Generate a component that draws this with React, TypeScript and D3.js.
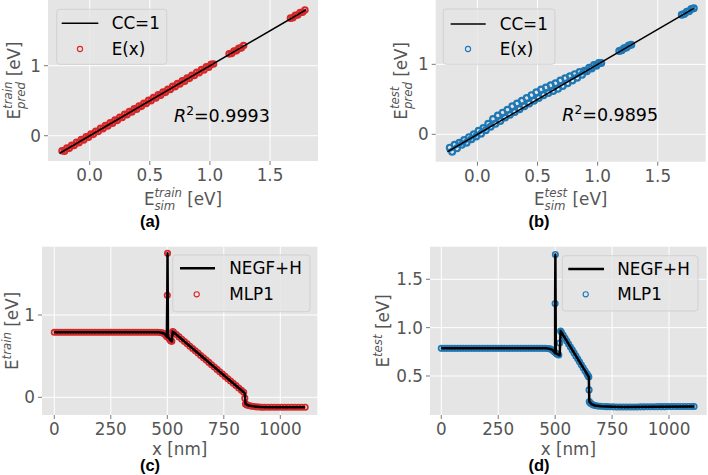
import React from "react";
import * as d3 from "d3";

// ---------- data ----------
const simTrain = [-0.23,-0.21,-0.19,-0.17,-0.15,-0.13,-0.11,-0.09,-0.07,-0.05,-0.03,-0.01,0.01,0.03,0.05,0.07,0.09,0.11,0.13,0.15,0.17,0.19,0.21,0.23,0.25,0.27,0.29,0.31,0.33,0.35,0.37,0.39,0.41,0.43,0.45,0.47,0.49,0.51,0.53,0.55,0.57,0.59,0.61,0.63,0.65,0.67,0.69,0.71,0.73,0.75,0.77,0.79,0.81,0.83,0.85,0.87,0.89,0.91,0.93,0.95,0.97,0.99,1.01,1.03,1.16,1.18,1.20,1.22,1.24,1.26,1.28,1.67,1.69,1.71,1.73,1.75,1.77,1.79];
const predTrain = [-0.215,-0.22,-0.175,-0.18,-0.135,-0.14,-0.095,-0.10,-0.055,-0.06,-0.015,-0.02,0.025,0.02,0.065,0.06,0.105,0.10,0.145,0.14,0.185,0.18,0.225,0.22,0.265,0.26,0.305,0.30,0.345,0.34,0.385,0.38,0.425,0.42,0.465,0.46,0.505,0.50,0.545,0.54,0.585,0.58,0.625,0.62,0.665,0.66,0.705,0.70,0.745,0.74,0.785,0.78,0.825,0.82,0.865,0.86,0.905,0.90,0.945,0.94,0.985,0.98,1.02,1.025,1.17,1.175,1.21,1.215,1.25,1.255,1.29,1.68,1.685,1.72,1.725,1.76,1.765,1.795];

const simTest = [-0.23,-0.21,-0.19,-0.17,-0.15,-0.13,-0.11,-0.09,-0.07,-0.05,-0.03,-0.01,0.01,0.03,0.05,0.07,0.09,0.11,0.13,0.15,0.17,0.19,0.21,0.23,0.25,0.27,0.29,0.31,0.33,0.35,0.37,0.39,0.41,0.43,0.45,0.47,0.49,0.51,0.53,0.55,0.57,0.59,0.61,0.63,0.65,0.67,0.69,0.71,0.73,0.75,0.77,0.79,0.81,0.83,0.85,0.87,0.89,0.91,0.93,0.95,0.97,0.99,1.01,1.03,1.18,1.20,1.22,1.24,1.26,1.28,1.70,1.72,1.74,1.76,1.78,1.80];
const predTest = [-0.19,-0.25,-0.15,-0.20,-0.12,-0.15,-0.08,-0.12,-0.04,-0.07,0.00,-0.03,0.05,0.01,0.09,0.06,0.15,0.11,0.22,0.15,0.27,0.19,0.31,0.24,0.35,0.28,0.40,0.32,0.44,0.36,0.48,0.40,0.52,0.44,0.56,0.48,0.60,0.52,0.64,0.56,0.67,0.59,0.70,0.62,0.73,0.65,0.77,0.69,0.80,0.73,0.83,0.77,0.86,0.81,0.89,0.85,0.91,0.90,0.95,0.94,0.99,0.98,1.02,1.02,1.19,1.20,1.23,1.24,1.27,1.28,1.71,1.72,1.75,1.76,1.79,1.80];

const ccLine = [-0.25, 1.8];
const r2Train = "0.9993";
const r2Test = "0.9895";

// profile (c): NEGF+H reference line
const xLineTrain = [0,460,475,485,492,498,500,501,503,508,514,520,524,838,843,844,846,860,880,910,950,1110];
const eLineTrain = [0.79,0.79,0.785,0.775,0.76,0.735,1.24,1.75,0.73,0.715,0.695,0.68,0.80,0.062,0.05,-0.01,-0.08,-0.10,-0.11,-0.118,-0.12,-0.12];
// profile (c): MLP1 predictions
const xMlpTrain = [0,12,24,36,48,60,72,84,96,108,120,132,144,156,168,180,192,204,216,228,240,252,264,276,288,300,312,324,336,348,360,372,384,396,408,420,432,444,456,
  468,478,486,492,497,500,501,504,508,512,516,520,524,
  528,540,552,564,576,588,600,612,624,636,648,660,672,684,696,708,720,732,744,756,768,780,792,804,816,828,838,
  843,846,852,860,870,882,894,906,918,
  930,945,960,975,990,1005,1020,1035,1050,1065,1080,1095,1110];
const eMlpTrain = [0.79,0.79,0.79,0.79,0.79,0.79,0.79,0.79,0.79,0.79,0.79,0.79,0.79,0.79,0.79,0.79,0.79,0.79,0.79,0.79,0.79,0.79,0.79,0.79,0.79,0.79,0.79,0.79,0.79,0.79,0.79,0.79,0.79,0.79,0.79,0.79,0.79,0.79,0.79,
  0.788,0.783,0.772,0.76,0.74,1.24,1.75,0.73,0.715,0.70,0.685,0.68,0.80,
  0.791,0.762,0.734,0.706,0.678,0.650,0.621,0.593,0.565,0.537,0.508,0.480,0.452,0.424,0.396,0.367,0.339,0.311,0.283,0.254,0.226,0.198,0.170,0.142,0.113,0.085,0.062,
  -0.01,-0.08,-0.092,-0.10,-0.107,-0.112,-0.116,-0.118,-0.12,
  -0.12,-0.12,-0.12,-0.12,-0.12,-0.12,-0.12,-0.12,-0.12,-0.12,-0.12,-0.12,-0.12];

// profile (d): NEGF+H reference line
const xLineTest = [0,460,475,488,496,500,500,501,503,508,514,520,524,648,649,650,660,675,700,750,800,1110];
const eLineTest = [0.786,0.786,0.782,0.77,0.75,0.735,1.25,1.757,0.735,0.728,0.72,0.715,0.965,0.49,0.356,0.235,0.21,0.195,0.187,0.182,0.179,0.185];
// profile (d): MLP1 predictions
const xMlpTest = [0,12,24,36,48,60,72,84,96,108,120,132,144,156,168,180,192,204,216,228,240,252,264,276,288,300,312,324,336,348,360,372,384,396,408,420,432,444,456,
  468,478,486,492,497,500,501,504,508,512,516,520,
  524,527,
  535,543,551,559,567,575,583,591,599,607,615,623,631,639,
  643,646,648,649,650,654,660,668,676,686,698,712,726,740,
  755,770,785,800,815,830,845,860,875,890,905,920,935,950,965,980,995,1010,1025,1040,1055,1070,1085,1100,
  1110];
const eMlpTest = [0.786,0.786,0.786,0.786,0.786,0.786,0.786,0.786,0.786,0.786,0.786,0.786,0.786,0.786,0.786,0.786,0.786,0.786,0.786,0.786,0.786,0.786,0.786,0.786,0.786,0.786,0.786,0.786,0.786,0.786,0.786,0.786,0.786,0.786,0.786,0.786,0.786,0.786,0.786,
  0.785,0.78,0.772,0.762,0.748,1.25,1.757,0.735,0.728,0.722,0.718,0.84,
  0.965,0.954,
  0.923,0.892,0.861,0.831,0.800,0.770,0.739,0.708,0.678,0.647,0.616,0.586,0.555,0.525,
  0.509,0.497,0.49,0.356,0.235,0.222,0.21,0.20,0.195,0.19,0.187,0.185,0.183,0.182,
  0.181,0.18,0.179,0.179,0.179,0.18,0.18,0.18,0.181,0.181,0.182,0.182,0.182,0.183,0.183,0.183,0.184,0.184,0.184,0.185,0.185,0.185,0.185,0.185,
  0.185];

const scatterXTicks = [0, 0.5, 1.0, 1.5];
const scatterYTicks = [0, 1];
const profXTicks = [0, 250, 500, 750, 1000];
const trainProfYTicks = [0, 1];
const testProfYTicks = [0.5, 1.0, 1.5];

// ---------- style ----------
const FONT = "DejaVu Sans, sans-serif";
const RED = "#d62728";
const BLUE = "#1f77b4";
const BG = "#e5e5e5";
const TICKC = "#555555";
const FS = 16.8;

type Sc = d3.ScaleLinear<number, number>;

function Frame({ x, y, xTicks, yTicks, xFmt, yFmt }: { x: Sc; y: Sc; xTicks: number[]; yTicks: number[]; xFmt: (v: number) => string; yFmt: (v: number) => string }) {
  const [x0, x1] = x.range();
  const [y0, y1] = y.range();
  return (
    <g>
      <rect x={x0} y={y1} width={x1 - x0} height={y0 - y1} fill={BG} />
      {xTicks.map((t) => (
        <line key={"gx" + t} x1={x(t)} x2={x(t)} y1={y1} y2={y0} stroke="#ffffff" strokeWidth={1} />
      ))}
      {yTicks.map((t) => (
        <line key={"gy" + t} x1={x0} x2={x1} y1={y(t)} y2={y(t)} stroke="#ffffff" strokeWidth={1} />
      ))}
      {xTicks.map((t) => (
        <g key={"tx" + t}>
          <line x1={x(t)} x2={x(t)} y1={y0} y2={y0 + 4} stroke={TICKC} strokeWidth={0.8} />
          <text x={x(t)} y={y0 + 20.3} textAnchor="middle" fontFamily={FONT} fontSize={FS} fill={TICKC}>{xFmt(t)}</text>
        </g>
      ))}
      {yTicks.map((t) => (
        <g key={"ty" + t}>
          <line x1={x0 - 4} x2={x0} y1={y(t)} y2={y(t)} stroke={TICKC} strokeWidth={0.8} />
          <text x={x0 - 7} y={y(t) + 6} textAnchor="end" fontFamily={FONT} fontSize={FS} fill={TICKC}>{yFmt(t)}</text>
        </g>
      ))}
    </g>
  );
}

// approximate widths of DejaVu Sans Oblique glyphs (em)
const GW: Record<string, number> = { t: 0.392, r: 0.411, a: 0.613, i: 0.278, n: 0.634, p: 0.635, e: 0.615, d: 0.635, s: 0.521, m: 0.974 };
const wOf = (s: string, fs: number) => s.split("").reduce((a, c) => a + (GW[c] || 0.6), 0) * fs;

function MathLabel({ x, y, sup, sub, tail, rotate }: { x: number; y: number; sup: string; sub?: string; tail: string; rotate?: boolean }) {
  const sfs = FS * 0.7;
  const up = sub ? 8 : 7;
  const down = 4.5;
  const wSup = wOf(sup, sfs);
  const wSub = sub ? wOf(sub, sfs) : 0;
  return (
    <text x={x} y={y} textAnchor="middle" fontFamily={FONT} fontSize={FS} fill={TICKC} style={{ whiteSpace: "pre" }}
      transform={rotate ? `rotate(-90 ${x} ${y})` : undefined}>
      <tspan>E</tspan>
      <tspan dy={-up} fontSize={sfs} fontStyle="italic">{sup}</tspan>
      {sub ? (
        <>
          <tspan dx={-wSup} dy={up + down} fontSize={sfs} fontStyle="italic">{sub}</tspan>
          <tspan dx={Math.max(0, wSup - wSub)} dy={-down}>{tail}</tspan>
        </>
      ) : (
        <tspan dy={up}>{tail}</tspan>
      )}
    </text>
  );
}

function Legend({ bx, by, bw, bh, lx1, lx2, ly, cx, cy, tx, t1, t2, b1, b2, color, lw }: any) {
  return (
    <g>
      <rect x={bx} y={by} width={bw} height={bh} rx={3} fill={BG} fillOpacity={0.8} stroke="#cccccc" strokeOpacity={0.8} strokeWidth={1} />
      <line x1={lx1} x2={lx2} y1={ly} y2={ly} stroke="#000" strokeWidth={lw} />
      <circle cx={cx} cy={cy} r={2.6} fill="none" stroke={color} strokeWidth={1.1} />
      <text x={tx} y={b1} fontFamily={FONT} fontSize={FS} fill="#000">{t1}</text>
      <text x={tx} y={b2} fontFamily={FONT} fontSize={FS} fill="#000">{t2}</text>
    </g>
  );
}

function R2({ x, y, val }: { x: number; y: number; val: string }) {
  return (
    <text x={x} y={y} fontFamily={FONT} fontSize={17.5} fill="#000">
      <tspan fontStyle="italic">R</tspan>
      <tspan dy={-7} fontSize={12.2}>2</tspan>
      <tspan dy={7}>={val}</tspan>
    </text>
  );
}

function SubLabel({ x, y, t }: { x: number; y: number; t: string }) {
  return (
    <text x={x} y={y} textAnchor="middle" fontFamily="Liberation Sans, Arial, sans-serif" fontWeight="bold" fontSize={16.5} fill="#000">{t}</text>
  );
}

export default function App() {
  const W = 708, H = 475;
  const f1 = d3.format(".1f");
  const fd = d3.format("d");

  const xa = d3.scaleLinear().domain([-0.347, 1.899]).range([48, 318]);
  const ya = d3.scaleLinear().domain([-0.361, 1.939]).range([161, 0]);
  const xb = d3.scaleLinear().domain([-0.347, 1.899]).range([435.7, 705.7]);
  const yb = d3.scaleLinear().domain([-0.391, 1.919]).range([161.7, 0]);
  const xc = d3.scaleLinear().domain([-54.4, 1163.7]).range([42, 317.3]);
  const yc = d3.scaleLinear().domain([-0.215, 1.83]).range([415, 246.7]);
  const xd = d3.scaleLinear().domain([-49.6, 1165.6]).range([430, 706.7]);
  const yd = d3.scaleLinear().domain([0.0967, 1.837]).range([415, 246.7]);

  const lineGen = (x: Sc, y: Sc, xs: number[], ys: number[]) =>
    d3.line<number>().x((_, i) => x(xs[i])).y((_, i) => y(ys[i]))(xs) || "";

  const dots = (x: Sc, y: Sc, xs: number[], ys: number[], color: string, key: string, r: number, sw: number) =>
    xs.map((v, i) => (
      <circle key={key + i} cx={x(v)} cy={y(ys[i])} r={r} fill="none" stroke={color} strokeWidth={sw} />
    ));

  return (
    <svg width={W} height={H} viewBox={`0 0 ${W} ${H}`} style={{ position: "absolute", left: 0, top: 0, background: "#fff" }}>
      {/* (a) */}
      <Frame x={xa} y={ya} xTicks={scatterXTicks} yTicks={scatterYTicks} xFmt={f1} yFmt={fd} />
      {dots(xa, ya, simTrain, predTrain, RED, "a", 2.8, 2)}
      <path d={lineGen(xa, ya, ccLine, ccLine)} stroke="#000" strokeWidth={1.5} fill="none" />
      <Legend bx={56.7} by={9.3} bw={110} bh={55} lx1={61.7} lx2={98.3} ly={23.3} cx={80} cy={49} tx={111.7} t1="CC=1" t2="E(x)" b1={29.4} b2={55} color={RED} lw={1.5} />
      <R2 x={174} y={122} val={r2Train} />
      <MathLabel x={183} y={205} sup="train" sub="sim" tail=" [eV]" />
      <MathLabel x={20} y={80.5} sup="train" sub="pred" tail=" [eV]" rotate />
      <SubLabel x={150} y={226.8} t="(a)" />

      {/* (b) */}
      <Frame x={xb} y={yb} xTicks={scatterXTicks} yTicks={scatterYTicks} xFmt={f1} yFmt={fd} />
      {dots(xb, yb, simTest, predTest, BLUE, "b", 2.9, 2.2)}
      <path d={lineGen(xb, yb, ccLine, ccLine)} stroke="#000" strokeWidth={1.5} fill="none" />
      <Legend bx={443.3} by={9} bw={111.7} bh={55.3} lx1={450.7} lx2={485.7} ly={24} cx={468} cy={49} tx={499.7} t1="CC=1" t2="E(x)" b1={30} b2={55} color={BLUE} lw={1.5} />
      <R2 x={562.3} y={120.5} val={r2Test} />
      <MathLabel x={570.7} y={205} sup="test" sub="sim" tail=" [eV]" />
      <MathLabel x={407.5} y={80.8} sup="test" sub="pred" tail=" [eV]" rotate />
      <SubLabel x={539} y={226.8} t="(b)" />

      {/* (c) */}
      <Frame x={xc} y={yc} xTicks={profXTicks} yTicks={trainProfYTicks} xFmt={fd} yFmt={fd} />
      {dots(xc, yc, xMlpTrain, eMlpTrain, RED, "c", 2.7, 1.7)}
      <path d={lineGen(xc, yc, xLineTrain, eLineTrain)} stroke="#000" strokeWidth={2.5} fill="none" strokeLinejoin="round" />
      <Legend bx={172.7} by={255} bw={137.3} bh={56.7} lx1={180} lx2={215} ly={268.3} cx={196.7} cy={294.3} tx={229.3} t1="NEGF+H" t2="MLP1" b1={274.4} b2={300.4} color={RED} lw={2.5} />
      <text x={179.7} y={454.5} textAnchor="middle" fontFamily={FONT} fontSize={FS} fill={TICKC}>x [nm]</text>
      <MathLabel x={18} y={330.9} sup="train" tail=" [eV]" rotate />
      <SubLabel x={150} y={471} t="(c)" />

      {/* (d) */}
      <Frame x={xd} y={yd} xTicks={profXTicks} yTicks={testProfYTicks} xFmt={fd} yFmt={f1} />
      {dots(xd, yd, xMlpTest, eMlpTest, BLUE, "d", 2.7, 1.7)}
      <path d={lineGen(xd, yd, xLineTest, eLineTest)} stroke="#000" strokeWidth={2.5} fill="none" strokeLinejoin="round" />
      <Legend bx={562.3} by={255.7} bw={135.7} bh={55.3} lx1={568.3} lx2={604} ly={269} cx={585.7} cy={294.3} tx={617.3} t1="NEGF+H" t2="MLP1" b1={275} b2={300.4} color={BLUE} lw={2.5} />
      <text x={568.3} y={454.5} textAnchor="middle" fontFamily={FONT} fontSize={FS} fill={TICKC}>x [nm]</text>
      <MathLabel x={389} y={330.9} sup="test" tail=" [eV]" rotate />
      <SubLabel x={539} y={471} t="(d)" />
    </svg>
  );
}
